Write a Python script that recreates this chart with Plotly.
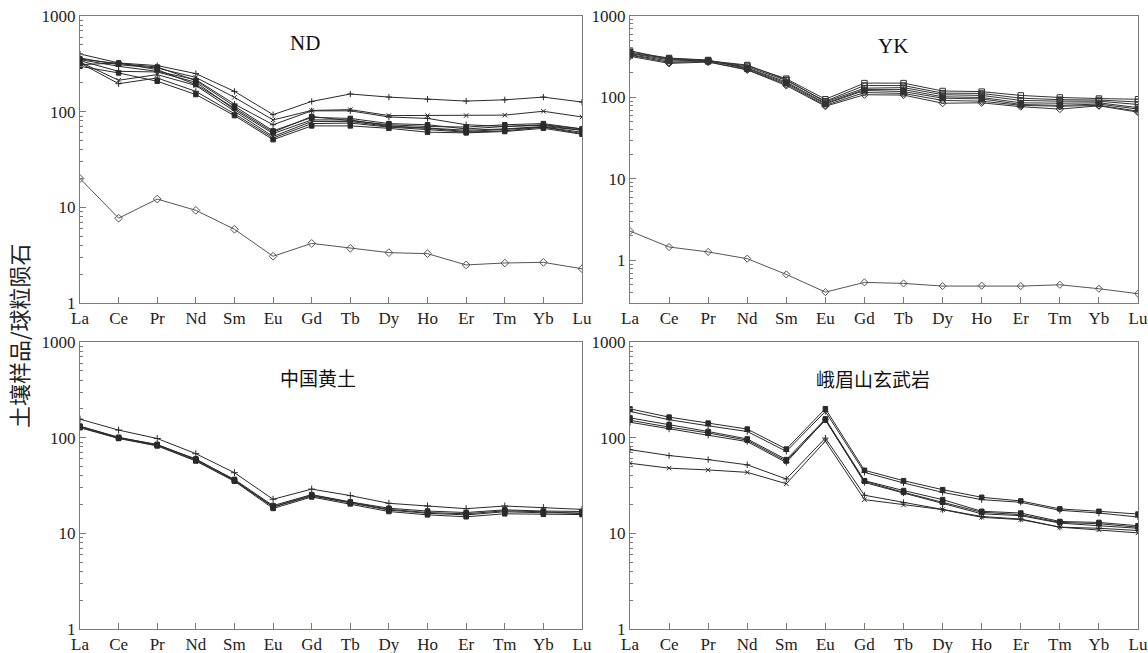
import math
import plotly.graph_objects as go

elements = ["La", "Ce", "Pr", "Nd", "Sm", "Eu", "Gd", "Tb", "Dy", "Ho", "Er", "Tm", "Yb", "Lu"]

# ND panel
nd_1 = [401, 323, 303, 250, 163, 93, 128, 153, 142, 135, 129, 133, 142, 126]
nd_2 = [364, 310, 286, 228, 141, 82, 103, 105, 91, 91, 91, 92, 101, 88]
nd_3 = [350, 298, 264, 216, 120, 73, 102, 102, 88, 85, 73, 70, 73, 66]
nd_4 = [355, 318, 293, 211, 114, 63, 87, 85, 75, 73, 66, 70, 72, 64]
nd_5 = [341, 264, 260, 203, 105, 59, 82, 82, 71, 68, 64, 66, 70, 64]
nd_6 = [330, 213, 244, 188, 101, 55, 79, 79, 70, 67, 62, 65, 69, 61]
nd_7 = [323, 196, 225, 163, 95, 53, 75, 76, 69, 65, 61, 63, 69, 59]
nd_8 = [298, 254, 208, 151, 91, 51, 71, 71, 67, 61, 60, 62, 67, 58]
nd_9 = [310, 323, 275, 192, 109, 61, 89, 81, 73, 70, 69, 73, 75, 66]
nd_low = [20, 7.7, 12.2, 9.3, 5.9, 3.08, 4.2, 3.73, 3.36, 3.28, 2.5, 2.62, 2.66, 2.28]

# YK panel
yk_1 = [345, 290, 280, 245, 170, 95, 150, 150, 120, 118, 106, 100, 97, 95]
yk_2 = [335, 280, 278, 238, 162, 90, 140, 140, 113, 112, 98, 94, 93, 88]
yk_3 = [350, 300, 285, 230, 155, 85, 125, 125, 102, 100, 86, 85, 86, 75]
yk_4 = [360, 305, 288, 225, 150, 83, 122, 118, 98, 96, 82, 80, 83, 72]
yk_5 = [330, 270, 275, 220, 145, 80, 115, 112, 92, 90, 80, 78, 80, 68]
yk_6 = [320, 262, 272, 218, 140, 78, 108, 107, 85, 86, 77, 72, 79, 66]
yk_7 = [375, 295, 282, 250, 165, 88, 130, 132, 108, 106, 92, 90, 90, 82]
yk_low = [2.29, 1.46, 1.27, 1.05, 0.673, 0.408, 0.537, 0.522, 0.484, 0.489, 0.484, 0.502, 0.449, 0.39]

# Chinese loess panel
loess_1 = [156, 120, 98, 68, 43, 22.7, 29, 24.8, 20.6, 19.3, 18.1, 19.3, 18.6, 17.8]
loess_2 = [131, 100, 85, 59, 36.6, 19.5, 25.4, 21.3, 18.3, 17.1, 16.5, 17.6, 17.1, 16.9]
loess_3 = [129, 99, 83, 58, 35.5, 18.8, 24.6, 20.8, 17.5, 16.2, 15.6, 16.8, 16.4, 16.3]
loess_4 = [127, 98, 82, 57, 35, 18.2, 24, 20.3, 16.9, 15.6, 14.9, 16.0, 15.8, 15.7]
loess_5 = [132, 101, 84, 60, 36, 19, 25, 21, 17.8, 16.5, 16.0, 17.2, 16.8, 16.1]

# Emeishan basalt panel
basalt_1 = [200, 164, 142, 123, 76, 201, 45.6, 35.5, 28.6, 23.8, 21.8, 18, 17, 15.9]
basalt_2 = [188, 154, 133, 116, 72, 188, 43.4, 33.6, 26.8, 22.5, 21.1, 17.4, 16.3, 14.8]
basalt_3 = [161, 137, 116, 97, 59, 157, 35.5, 28, 22.5, 17, 16.3, 13.3, 13, 12]
basalt_4 = [152, 129, 112, 94, 57, 152, 35, 26.8, 21.1, 16.6, 15.7, 13, 12.6, 11.6]
basalt_5 = [145, 123, 106, 91, 55, 155, 34, 26.4, 20.4, 16, 15.3, 12.8, 12, 11.3]
basalt_6 = [75, 65, 59, 52, 37, 99, 25, 21, 17.7, 15, 14.1, 11.6, 11.3, 10.7]
basalt_7 = [54, 48, 46, 43.4, 33, 92, 22.5, 19.8, 17.7, 14.7, 13.9, 11.6, 10.9, 10.1]

xpos = list(range(len(elements)))

fig = go.Figure()

LINE_COLOR = "#2a2a2a"
AXIS_COLOR = "#7a7a7a"
SERIF = "Liberation Serif, Times New Roman, serif"
CJK = "Noto Sans CJK SC"

W, H = 1148, 653


def px_x(x):
    return x / W


def px_y(y):
    return 1 - y / H


def add_series(vals, symbol, n, size=4.5, color=LINE_COLOR, width=1.0):
    fig.add_trace(go.Scatter(
        x=xpos, y=vals, mode="lines+markers",
        line=dict(color=color, width=width),
        marker=dict(symbol=symbol, size=size, color=color,
                    line=dict(color=color, width=1)),
        xaxis="x" + (str(n) if n > 1 else ""),
        yaxis="y" + (str(n) if n > 1 else ""),
        showlegend=False, hoverinfo="skip",
    ))


nd_series = [(nd_1, "cross-thin"), (nd_2, "x-thin"), (nd_3, "cross-thin"),
             (nd_4, "square"), (nd_5, "cross-thin"), (nd_6, "x-thin"),
             (nd_7, "cross-thin"), (nd_8, "square"), (nd_9, "square")]
for v, s in nd_series:
    add_series(v, s, 1)
add_series(nd_low, "diamond-open", 1, size=6, color="#555555")

yk_series = [(yk_1, "square-open"), (yk_2, "square-open"), (yk_3, "asterisk-open"),
             (yk_4, "square"), (yk_5, "diamond-open"), (yk_6, "diamond-open"),
             (yk_7, "square-open")]
for v, s in yk_series:
    add_series(v, s, 2, size=5.5, color="#333333")
add_series(yk_low, "diamond-open", 2, size=5.5, color="#555555")

add_series(loess_1, "cross-thin", 3, size=5)
for v in [loess_2, loess_3, loess_4, loess_5]:
    add_series(v, "square", 3, size=4.5)

basalt_series = [(basalt_1, "square"), (basalt_2, "cross-thin"), (basalt_3, "square"),
                 (basalt_4, "square"), (basalt_5, "cross-thin"), (basalt_6, "cross-thin"),
                 (basalt_7, "x-thin")]
for v, s in basalt_series:
    add_series(v, s, 4, size=4.5)

xdom_l = [px_x(80), px_x(582)]
xdom_r = [px_x(630), px_x(1138)]
ydom_t = [px_y(303), px_y(16)]
ydom_b = [px_y(629), px_y(342)]

tickfont = dict(family=SERIF, size=17, color="#222222")


def xaxis(domain, anchor):
    return dict(domain=domain, anchor=anchor, range=[0, 13],
                tickvals=xpos, ticktext=elements, automargin=False,
                ticks="inside", ticklen=6, tickcolor=AXIS_COLOR,
                showline=True, mirror=True, linecolor=AXIS_COLOR, linewidth=1,
                showgrid=False, zeroline=False, tickfont=tickfont, fixedrange=True)


def yaxis(domain, anchor, lo):
    return dict(domain=domain, anchor=anchor, type="log", automargin=False,
                range=[math.log10(lo), 3],
                tickvals=[1, 10, 100, 1000], ticktext=["1", "10", "100", "1000"],
                ticks="inside", ticklen=6, tickcolor=AXIS_COLOR,
                minor=dict(ticks="inside", ticklen=3, tickcolor=AXIS_COLOR,
                           tickvals=[m * 10 ** e for e in range(-1, 3) for m in range(2, 10)
                                     if m * 10 ** e >= lo]),
                showline=True, mirror=True, linecolor=AXIS_COLOR, linewidth=1,
                showgrid=False, zeroline=False, tickfont=tickfont, fixedrange=True)


fig.update_layout(
    width=W, height=H,
    margin=dict(l=0, r=0, t=0, b=0),
    paper_bgcolor="white", plot_bgcolor="white",
    xaxis=xaxis(xdom_l, "y"), yaxis=yaxis(ydom_t, "x", 1),
    xaxis2=xaxis(xdom_r, "y2"), yaxis2=yaxis(ydom_t, "x2", 0.3),
    xaxis3=xaxis(xdom_l, "y3"), yaxis3=yaxis(ydom_b, "x3", 1),
    xaxis4=xaxis(xdom_r, "y4"), yaxis4=yaxis(ydom_b, "x4", 1),
)

titles = [("ND", 305, 43, SERIF, 21), ("YK", 893, 46, SERIF, 21),
          ("中国黄土", 318, 377, CJK, 19), ("峨眉山玄武岩", 873, 378, CJK, 19)]
for text, px, py, fam, sz in titles:
    fig.add_annotation(text=text, x=px_x(px), y=px_y(py), xref="paper", yref="paper",
                       showarrow=False, font=dict(family=fam, size=sz, color="#111111"),
                       xanchor="center", yanchor="middle")

fig.add_annotation(text="土壤样品/球粒陨石", x=px_x(18), y=px_y(336),
                   xref="paper", yref="paper", showarrow=False, textangle=-90,
                   font=dict(family=CJK, size=22, color="#222222"),
                   xanchor="center", yanchor="middle")

fig.write_html(
    "out.html",
    config={"displayModeBar": False},
    post_script="document.body.style.margin='0px';document.body.style.overflow='hidden';",
)
